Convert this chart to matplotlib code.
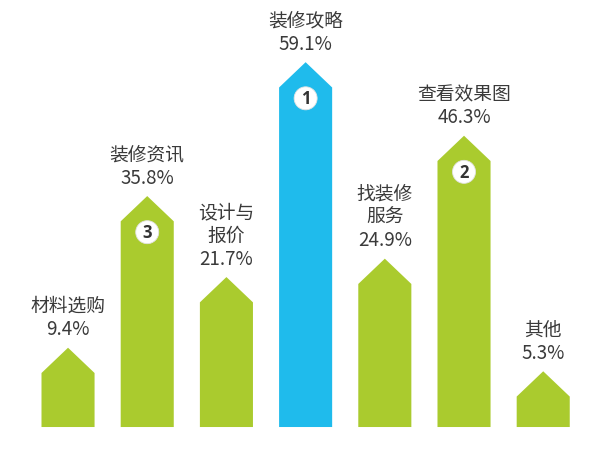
import matplotlib
matplotlib.use("Agg")
import matplotlib.pyplot as plt
from matplotlib.patches import Polygon

plt.rcParams['font.family'] = ['Noto Sans CJK SC', 'DejaVu Sans']

categories = ["材料选购", "装修资讯", "设计与\n报价", "装修攻略", "找装修\n服务", "查看效果图", "其他"]
values = [9.4, 35.8, 21.7, 59.1, 24.9, 46.3, 5.3]
ranks = [None, 3, None, 1, None, 2, None]
highlight = 3  # index of top item

GREEN = "#aacb2e"
BLUE = "#1fbbec"
TEXT = "#3a3a3a"

fig = plt.figure(figsize=(6.0, 4.56), dpi=100)
ax = fig.add_axes([0, 0, 1, 1])
ax.set_xlim(-0.859, 6.717)
ax.set_ylim(-4.87, 74.5)
ax.axis("off")

w = 0.67
roof = 4.4
for i, (cat, v, rk) in enumerate(zip(categories, values, ranks)):
    color = BLUE if i == highlight else GREEN
    pts = [(i - w / 2, 0), (i - w / 2, v), (i, v + roof), (i + w / 2, v), (i + w / 2, 0)]
    ax.add_patch(Polygon(pts, closed=True, facecolor=color, edgecolor="none"))
    ax.annotate(f"{cat}\n{v}%", xy=(i, v + roof), xytext=(0, 6), textcoords="offset points",
                ha="center", va="bottom", fontsize=13.5, color=TEXT, linespacing=1.15)
    if rk is not None:
        ax.annotate(str(rk), xy=(i, v + roof), xytext=(0, -26), textcoords="offset points",
                    ha="center", va="center", fontsize=12, fontweight="bold", color="#333333",
                    family=["Open Sans", "DejaVu Sans"],
                    bbox=dict(boxstyle="circle,pad=0.15", facecolor="white", edgecolor="#e2e2e2", linewidth=0.6))

fig.savefig("out.png", dpi=100)
